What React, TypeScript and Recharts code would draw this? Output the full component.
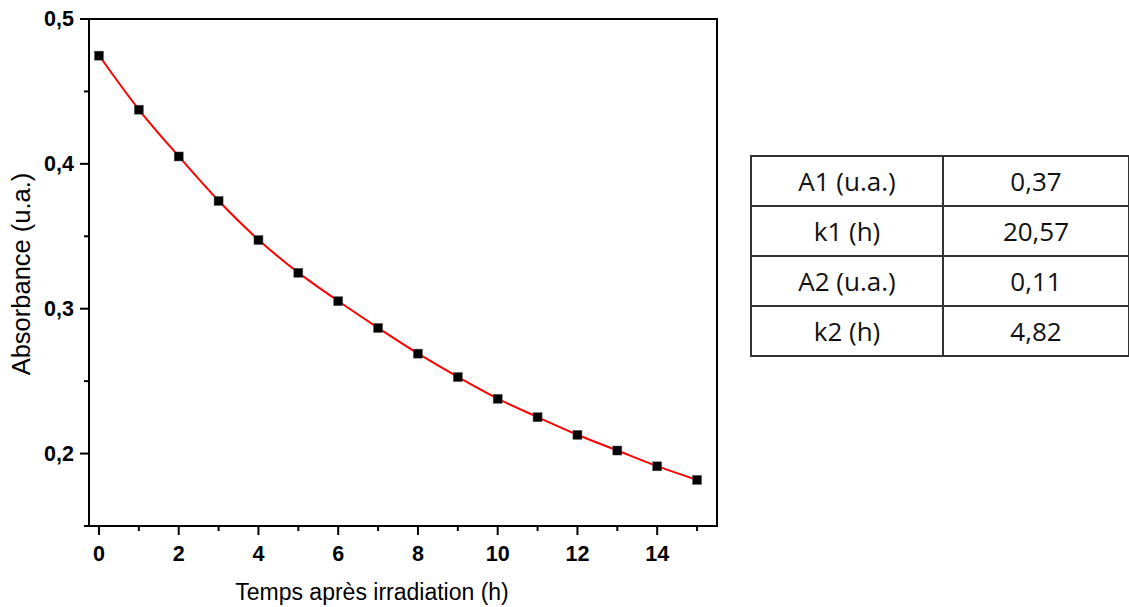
import { ComposedChart, Line, Scatter, XAxis, YAxis, ReferenceArea } from 'recharts'

// temps (h)
const hours = [0, 1, 2, 3, 4, 5, 6, 7, 8, 9, 10, 11, 12, 13, 14, 15]
// absorbance measured (u.a.)
const absorbance = [0.4747, 0.4374, 0.4051, 0.3744, 0.3474, 0.3248, 0.3052, 0.2867, 0.269, 0.2528, 0.2378, 0.2251, 0.2129, 0.2021, 0.1912, 0.1818]
// red fitted curve, read at the same times
const fitCurve = [0.475, 0.4375, 0.4052, 0.3745, 0.3476, 0.3249, 0.3053, 0.2868, 0.2691, 0.2529, 0.2379, 0.2252, 0.213, 0.2021, 0.1913, 0.1818]

const xTicks = [0, 1, 2, 3, 4, 5, 6, 7, 8, 9, 10, 11, 12, 13, 14, 15]
const yTicks = [0.15, 0.2, 0.25, 0.3, 0.35, 0.4, 0.45, 0.5]
const yMajor = [0.2, 0.3, 0.4, 0.5]

const paramNames = ['A1 (u.a.)', 'k1 (h)', 'A2 (u.a.)', 'k2 (h)']
const paramValues = ['0,37', '20,57', '0,11', '4,82']

const data = hours.map((t, i) => ({ t, abs: absorbance[i], fit: fitCurve[i] }))

const tickFont = { fontFamily: '"Liberation Sans", Arial, sans-serif', fontWeight: 700, fontSize: 21.5 }
const titleFont = '"Liberation Sans", Arial, sans-serif'

function XTick(props: any) {
  const { x, y, payload } = props
  const major = payload.value % 2 === 0
  return (
    <g>
      <line x1={x} x2={x} y1={y} y2={y + (major ? 9 : 5)} stroke="#000" strokeWidth={2} />
      {major && (
        <text x={x} y={y + 35} textAnchor="middle" fill="#000" style={tickFont}>
          {payload.value}
        </text>
      )}
    </g>
  )
}

function YTick(props: any) {
  const { x, y, payload } = props
  const major = yMajor.some((m) => Math.abs(m - payload.value) < 1e-6)
  return (
    <g>
      <line x1={x} x2={x - (major ? 9 : 5)} y1={y} y2={y} stroke="#000" strokeWidth={2} />
      {major && (
        <text x={x - 15} y={y + 7} textAnchor="end" fill="#000" style={tickFont}>
          {payload.value.toFixed(1).replace('.', ',')}
        </text>
      )}
    </g>
  )
}

function Square(props: any) {
  const { cx, cy } = props
  return <rect x={cx - 4.5} y={cy - 4.5} width={9} height={9} fill="#000" stroke="#555" strokeWidth={0.5} />
}

const cellStyle: React.CSSProperties = {
  border: '2px solid #333',
  textAlign: 'center',
  height: 48,
  padding: 0,
  fontFamily: '"Open Sans", "Noto Sans", sans-serif',
  fontSize: 26,
  color: '#111',
}

export default function App() {
  return (
    <div style={{ position: 'absolute', left: 0, top: 0, width: 1129, height: 607, background: '#fff', overflow: 'hidden' }}>
      <ComposedChart width={740} height={607} data={data} margin={{ top: 19, right: 23, left: 0, bottom: 0 }}>
        <XAxis
          dataKey="t"
          type="number"
          domain={[-0.25, 15.5]}
          ticks={xTicks}
          allowDataOverflow
          height={81}
          tickSize={0}
          tickMargin={0}
          tickLine={false}
          axisLine={{ stroke: '#000', strokeWidth: 2 }}
          tick={<XTick />}
          label={{
            content: () => (
              <text x={372} y={600} textAnchor="middle" fill="#000" style={{ fontFamily: titleFont, fontSize: 23 }}>
                Temps après irradiation (h)
              </text>
            ),
          }}
        />
        <YAxis
          type="number"
          domain={[0.15, 0.5]}
          ticks={yTicks}
          allowDataOverflow
          width={89}
          tickSize={0}
          tickMargin={0}
          tickLine={false}
          axisLine={{ stroke: '#000', strokeWidth: 2 }}
          tick={<YTick />}
          label={{
            content: () => (
              <text
                x={30}
                y={274}
                textAnchor="middle"
                transform="rotate(-90 30 274)"
                fill="#000"
                style={{ fontFamily: titleFont, fontSize: 25.5 }}
              >
                Absorbance (u.a.)
              </text>
            ),
          }}
        />
        <ReferenceArea x1={-0.25} x2={15.5} y1={0.15} y2={0.5} fill="none" stroke="#000" strokeWidth={2} ifOverflow="visible" />
        <Scatter dataKey="abs" shape={<Square />} isAnimationActive={false} />
        <Line type="monotone" dataKey="fit" stroke="#ff0000" strokeWidth={2} dot={false} activeDot={false} isAnimationActive={false} />
      </ComposedChart>
      <table
        style={{
          position: 'absolute',
          left: 750,
          top: 155,
          borderCollapse: 'collapse',
          tableLayout: 'fixed',
          width: 380,
        }}
      >
        <tbody>
          {paramNames.map((name, i) => (
            <tr key={name}>
              <td style={{ ...cellStyle, width: 190 }}>{name}</td>
              <td style={cellStyle}>{paramValues[i]}</td>
            </tr>
          ))}
        </tbody>
      </table>
    </div>
  )
}
